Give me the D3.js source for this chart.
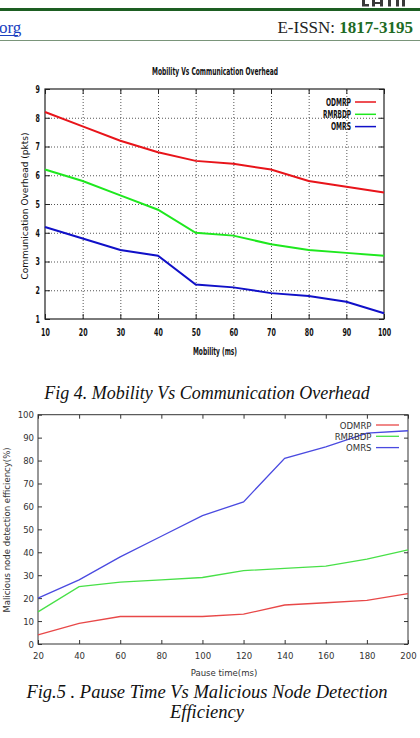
<!DOCTYPE html>
<html><head><meta charset="utf-8">
<script src="https://cdn.jsdelivr.net/npm/d3@7"></script>
<style>body{margin:0;background:#fff}svg{display:block}</style>
</head><body><svg id="c" width="420" height="738"></svg>
<script>
// ---- Fig 4 data ----
const mobility = [10,20,30,40,50,60,70,80,90,100];
const odmrpOverhead  = [8.2,7.7,7.2,6.8,6.5,6.4,6.2,5.8,5.6,5.4];
const rmrbdpOverhead = [6.2,5.8,5.3,4.8,4.0,3.9,3.6,3.4,3.3,3.2];
const omrsOverhead   = [4.2,3.8,3.4,3.2,2.2,2.1,1.9,1.8,1.6,1.2];
const overheadTicks  = [1,2,3,4,5,6,7,8,9];
// ---- Fig 5 data ----
const pauseTime = [20,40,60,80,100,120,140,160,180,200];
const odmrpDetect  = [4,9,12,12,12,13,17,18,19,22];
const rmrbdpDetect = [14,25,27,28,29,32,33,34,37,41];
const omrsDetect   = [20,28,38,47,56,62,81,86,92,93];
const detectTicks  = [0,10,20,30,40,50,60,70,80,90,100];
const seriesNames = ["ODMRP","RMRBDP","OMRS"];

const svg = d3.select("#c");

// ---- page header ----
svg.append("rect").attr("x",0).attr("y",8).attr("width",420).attr("height",3).attr("fill","#1d5e22");
svg.append("line").attr("x1",0).attr("x2",420).attr("y1",40.5).attr("y2",40.5).attr("stroke","#7a957a").attr("stroke-width",1);
// cropped logo fragment (graphic)
const logo = svg.append("g").attr("fill","#3a3a3a");
[[362,0,3,6],[362,4,7,2.5],[372,0,3,6.5],[380,0,3,6.5],[372,2,11,2],[388,0,3,6.5],[396,0,3,6.5],[402,0,3,6.5]]
  .forEach(r=>logo.append("rect").attr("x",r[0]).attr("y",r[1]).attr("width",r[2]).attr("height",r[3]));
svg.append("text").attr("x",-1).attr("y",33).attr("font-family","Liberation Serif, serif").attr("font-size",17).attr("fill","#1a3fbf").text("org");
svg.append("line").attr("x1",0).attr("x2",18).attr("y1",35.5).attr("y2",35.5).attr("stroke","#1a3fbf");
const issn = svg.append("text").attr("x",413).attr("y",33).attr("text-anchor","end")
  .attr("font-family","Liberation Serif, serif").attr("font-size",17).attr("fill","#222");
issn.append("tspan").text("E-ISSN: ");
issn.append("tspan").attr("font-weight","bold").attr("fill","#1e6b25").text("1817-3195");

// ================= Fig 4 =================
const x1 = d3.scaleLinear().domain([10,100]).range([45,384]);
const y1 = d3.scaleLinear().domain([1,9]).range([319,89]);
const f1 = "DejaVu Sans Condensed, sans-serif";
const g1 = svg.append("g");
const narrow = (sel, perChar) => sel.attr("textLength", function(){ return this.textContent.length*perChar; })
  .attr("lengthAdjust","spacingAndGlyphs");

// grid
g1.append("g").attr("transform","translate(0,319)")
  .call(d3.axisBottom(x1).tickValues(mobility.slice(1,-1)).tickSize(-230).tickFormat(""))
  .call(a=>a.select(".domain").remove())
  .call(a=>a.selectAll("line").attr("stroke","#555").attr("stroke-dasharray","1,2"));
g1.append("g").attr("transform","translate(45,0)")
  .call(d3.axisLeft(y1).tickValues(overheadTicks.slice(1,-1)).tickSize(-339).tickFormat(""))
  .call(a=>a.select(".domain").remove())
  .call(a=>a.selectAll("line").attr("stroke","#555").attr("stroke-dasharray","1,2"));
// inward ticks, all sides
const tk1 = [
  [d3.axisBottom(x1).tickValues(mobility).tickSize(-5), "translate(0,319)"],
  [d3.axisTop(x1).tickValues(mobility).tickSize(-5), "translate(0,89)"],
  [d3.axisLeft(y1).tickValues(overheadTicks).tickSize(-5), "translate(45,0)"],
  [d3.axisRight(y1).tickValues(overheadTicks).tickSize(-5), "translate(384,0)"]
];
tk1.forEach(([ax,tr])=>{
  g1.append("g").attr("transform",tr).call(ax.tickFormat(""))
    .call(a=>a.select(".domain").remove())
    .call(a=>a.selectAll("line").attr("stroke","#222"));
});
g1.append("rect").attr("x",45).attr("y",89).attr("width",339).attr("height",230)
  .attr("fill","none").attr("stroke","#222").attr("stroke-width",1.2);

// labels
g1.append("g").attr("transform","translate(0,319)")
  .call(d3.axisBottom(x1).tickValues(mobility).tickSize(0).tickPadding(10))
  .call(a=>a.select(".domain").remove())
  .call(a=>a.selectAll("text").attr("font-family",f1).attr("font-weight","bold").attr("font-size",10.5).attr("fill","#111").call(narrow,4.4));
g1.append("g").attr("transform","translate(45,0)")
  .call(d3.axisLeft(y1).tickValues(overheadTicks).tickSize(0).tickPadding(5))
  .call(a=>a.select(".domain").remove())
  .call(a=>a.selectAll("text").attr("font-family",f1).attr("font-weight","bold").attr("font-size",10.5).attr("fill","#111").call(narrow,4.4));

g1.append("text").attr("x",215).attr("y",75).attr("text-anchor","middle").attr("font-family",f1)
  .attr("font-weight","bold").attr("font-size",10).attr("fill","#111")
  .attr("textLength",126).attr("lengthAdjust","spacingAndGlyphs").text("Mobility Vs Communication Overhead");
g1.append("text").attr("x",215).attr("y",355).attr("text-anchor","middle").attr("font-family",f1)
  .attr("font-weight","bold").attr("font-size",10).attr("fill","#111")
  .attr("textLength",44).attr("lengthAdjust","spacingAndGlyphs").text("Mobility (ms)");
g1.append("text").attr("transform","translate(28,206) rotate(-90)").attr("text-anchor","middle")
  .attr("font-family","DejaVu Sans, sans-serif").attr("font-size",9.5).attr("fill","#111")
  .attr("textLength",147).attr("lengthAdjust","spacingAndGlyphs").text("Communication Overhead (pkts)");

const col1 = ["#e8141a","#1ee81e","#1010c8"];
const data1 = [odmrpOverhead, rmrbdpOverhead, omrsOverhead];
const line1 = d3.line().x((d,i)=>x1(mobility[i])).y(d=>y1(d));
data1.forEach((s,k)=>{
  g1.append("path").attr("d",line1(s)).attr("fill","none").attr("stroke",col1[k]).attr("stroke-width",2);
});
// legend
const legW1 = [25,28,20];
seriesNames.forEach((n,k)=>{
  const yy = 102 + k*12.3;
  g1.append("text").attr("x",351).attr("y",yy+3.5).attr("text-anchor","end").attr("font-family",f1)
    .attr("font-weight","bold").attr("font-size",10).attr("fill","#111")
    .attr("textLength",legW1[k]).attr("lengthAdjust","spacingAndGlyphs").text(n);
  g1.append("line").attr("x1",355).attr("x2",376).attr("y1",yy).attr("y2",yy).attr("stroke",col1[k]).attr("stroke-width",1.5);
});

// caption 4
svg.append("text").attr("x",207).attr("y",399).attr("text-anchor","middle")
  .attr("font-family","Liberation Serif, serif").attr("font-style","italic").attr("font-size",18).attr("fill","#111")
  .text("Fig 4. Mobility Vs Communication Overhead");

// ================= Fig 5 =================
const x2 = d3.scaleLinear().domain([20,200]).range([38,408]);
const y2 = d3.scaleLinear().domain([0,100]).range([644,414.7]);
const f2 = "DejaVu Sans Condensed, DejaVu Sans, sans-serif";
const g2 = svg.append("g");
const tk2 = [
  [d3.axisBottom(x2).tickValues(pauseTime), "translate(0,644)"],
  [d3.axisTop(x2).tickValues(pauseTime), "translate(0,414.7)"],
  [d3.axisLeft(y2).tickValues(detectTicks), "translate(38,0)"],
  [d3.axisRight(y2).tickValues(detectTicks), "translate(408,0)"]
];
tk2.forEach(([ax,tr])=>{
  g2.append("g").attr("transform",tr).call(ax.tickSize(-4).tickFormat(""))
    .call(a=>a.select(".domain").remove())
    .call(a=>a.selectAll("line").attr("stroke","#333"));
});
g2.append("rect").attr("x",38).attr("y",414.7).attr("width",370).attr("height",229.3)
  .attr("fill","none").attr("stroke","#333").attr("stroke-width",1);
g2.append("g").attr("transform","translate(0,644)")
  .call(d3.axisBottom(x2).tickValues(pauseTime).tickSize(0).tickPadding(8))
  .call(a=>a.select(".domain").remove())
  .call(a=>a.selectAll("text").attr("font-family",f2).attr("font-size",9.5).attr("fill","#333"));
g2.append("g").attr("transform","translate(38,0)")
  .call(d3.axisLeft(y2).tickValues(detectTicks).tickSize(0).tickPadding(4))
  .call(a=>a.select(".domain").remove())
  .call(a=>a.selectAll("text").attr("font-family",f2).attr("font-size",9.5).attr("fill","#333"));
g2.append("text").attr("x",224).attr("y",676).attr("text-anchor","middle").attr("font-family",f2)
  .attr("font-size",9.5).attr("fill","#333").text("Pause time(ms)");
g2.append("text").attr("transform","translate(10,530) rotate(-90)").attr("text-anchor","middle")
  .attr("font-family",f2).attr("font-size",9.5).attr("fill","#333").text("Malicious node detection efficiency(%)");

const col2 = ["#e84848","#48e048","#4a4ae0"];
const data2 = [odmrpDetect, rmrbdpDetect, omrsDetect];
const line2 = d3.line().x((d,i)=>x2(pauseTime[i])).y(d=>y2(d));
data2.forEach((s,k)=>{
  g2.append("path").attr("d",line2(s)).attr("fill","none").attr("stroke",col2[k]).attr("stroke-width",1.3);
});
seriesNames.forEach((n,k)=>{
  const yy = 425 + k*11.3;
  g2.append("text").attr("x",371.5).attr("y",yy+3.5).attr("text-anchor","end").attr("font-family",f2)
    .attr("font-size",9.5).attr("fill","#333").text(n);
  g2.append("line").attr("x1",376).attr("x2",399).attr("y1",yy).attr("y2",yy).attr("stroke",col2[k]).attr("stroke-width",1.3);
});

const cap5 = svg.append("text").attr("text-anchor","middle")
  .attr("font-family","Liberation Serif, serif").attr("font-style","italic").attr("font-size",18.5).attr("fill","#111");
cap5.append("tspan").attr("x",207).attr("y",698).text("Fig.5 . Pause Time Vs Malicious Node Detection");
cap5.append("tspan").attr("x",207).attr("y",718).text("Efficiency");
</script></body></html>
